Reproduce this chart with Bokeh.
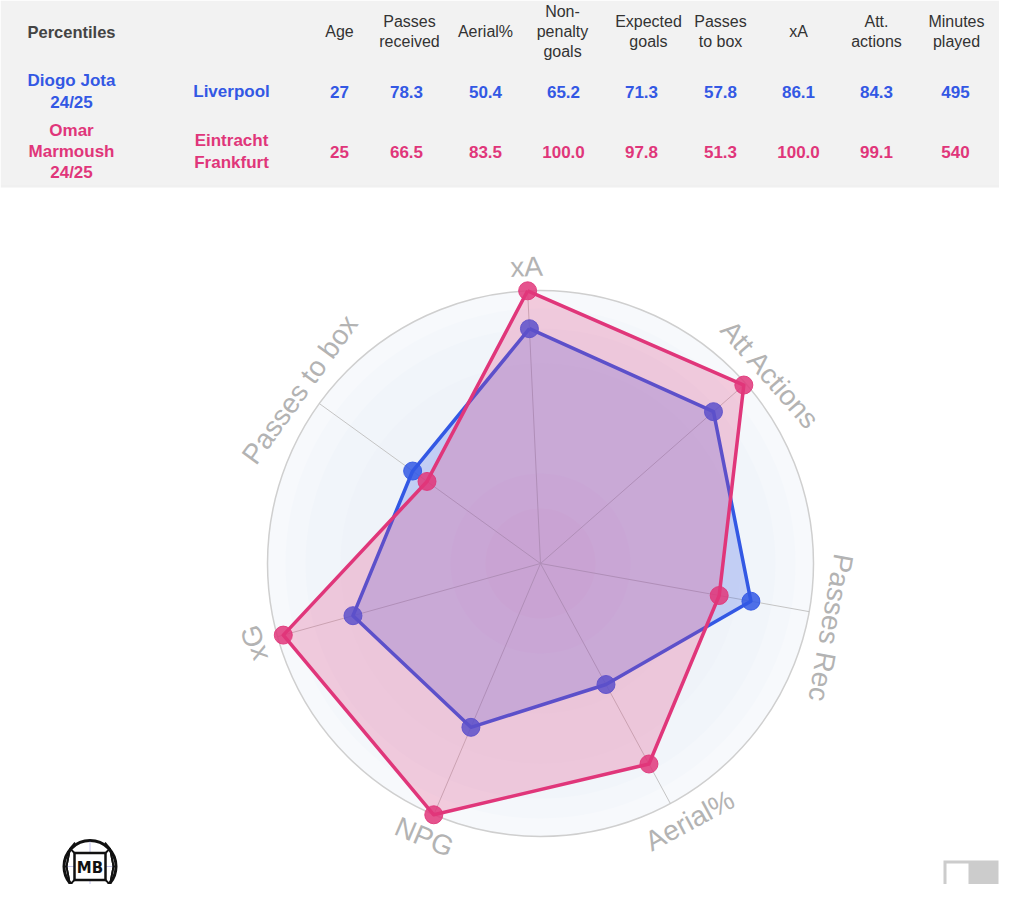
import numpy as np
from bokeh.plotting import figure
from bokeh.models import Range1d
from bokeh.core.properties import value
from bokeh.embed import file_html
from bokeh.resources import INLINE

# ---------------- data ----------------
metrics = ["xA", "Att Actions", "Passes Rec", "Aerial%", "NPG", "xG", "Passes to box"]
jota_vals = [86.1, 84.3, 78.3, 50.4, 65.2, 71.3, 57.8]
marmoush_vals = [100.0, 99.1, 66.5, 83.5, 100.0, 97.8, 51.3]

header_labels = ["Age", "Passes\nreceived", "Aerial%", "Non-\npenalty\ngoals", "Expected\ngoals",
                 "Passes\nto box", "xA", "Att.\nactions", "Minutes\nplayed"]
jota_row = ["27", "78.3", "50.4", "65.2", "71.3", "57.8", "86.1", "84.3", "495"]
marmoush_row = ["25", "66.5", "83.5", "100.0", "97.8", "51.3", "100.0", "99.1", "540"]
player_names = ["Diogo Jota\n24/25", "Omar\nMarmoush\n24/25"]
team_names = ["Liverpool", "Eintracht\nFrankfurt"]

# ---------------- layout / style ----------------
BLUE = "#3358e4"
PINK = "#e0367a"
FONT = "Liberation Sans"
head_x = [339, 409, 485, 562, 648, 720, 798, 876, 956]
val_x = [339, 406, 485, 563, 641, 720, 798, 876, 955]
label_shift = [0, 10, 12, 9, 0, 0, 0]   # px along the reading direction of each axis label

W, H = 999, 884
p = figure(width=W, height=H, x_range=Range1d(0, W), y_range=Range1d(H, 0),
           output_backend="svg", toolbar_location=None, min_border=0,
           x_axis_location=None, y_axis_location=None)
p.grid.visible = False
p.outline_line_color = None
p.background_fill_color = "white"
p.border_fill_color = "white"

# ---------------- header table ----------------
p.quad(left=0, right=W, top=0, bottom=184, fill_color="#f2f2f2", line_color=None)
p.quad(left=0, right=W, top=184, bottom=187, fill_color="#e6e6e6", fill_alpha=0.6, line_color=None)

p.text(x=[71], y=[31], text=["Percentiles"], text_font=value(FONT), text_font_size="16.5px",
       text_font_style="bold", text_color="#444444", text_align="center", text_baseline="middle")
p.text(x=head_x, y=[31] * len(head_x), text=header_labels, text_font=value(FONT),
       text_font_size="16px", text_color="#333333", text_align="center", text_baseline="middle",
       text_line_height=1.15)

for row, ycen, col in [(jota_row, 91, BLUE), (marmoush_row, 151, PINK)]:
    p.text(x=val_x, y=[ycen] * len(val_x), text=row, text_font=value(FONT), text_font_size="17px",
           text_font_style="bold", text_color=col, text_align="center", text_baseline="middle")
p.text(x=[71, 71], y=[91, 151], text=player_names, text_font=value(FONT), text_font_size="17px",
       text_font_style="bold", text_color=[BLUE, PINK], text_align="center", text_baseline="middle",
       text_line_height=1.12)
p.text(x=[231, 231], y=[91, 151], text=team_names, text_font=value(FONT), text_font_size="17px",
       text_font_style="bold", text_color=[BLUE, PINK], text_align="center", text_baseline="middle",
       text_line_height=1.12)

# ---------------- radar ----------------
cx, cy, R = 540.0, 563.0, 273.0
n = len(metrics)
theta = np.radians(-2.7 + np.arange(n) * 360.0 / n)   # clockwise from up


def polar(vals, rr=R):
    v = np.asarray(vals, dtype=float) / 100.0 * rr
    return cx + v * np.sin(theta), cy - v * np.cos(theta)


# background radial shading
for rr, col in [(273, "#f7f9fc"), (255, "#f4f7fb"), (235, "#f1f5fa"), (200, "#eff3f9"),
                (150, "#eef2f8"), (90, "#eeeef6"), (55, "#efe9f2")]:
    p.circle(x=[cx], y=[cy], radius=rr, fill_color=col, line_color=None)
p.circle(x=[cx], y=[cy], radius=R, fill_color=None, line_color="#cfcfcf", line_width=1.5)

ex, ey = polar([100] * n)
p.segment(x0=[cx] * n, y0=[cy] * n, x1=ex, y1=ey, line_color="#c4c4c4", line_width=1)

# series (Jota below, Marmoush on top)
for vals, col in [(jota_vals, BLUE), (marmoush_vals, PINK)]:
    xs, ys = polar(vals)
    p.patch(x=list(xs), y=list(ys), fill_color=col, fill_alpha=0.24, line_color=None)
    p.line(x=list(xs) + [xs[0]], y=list(ys) + [ys[0]], line_color=col, line_width=3.5,
           line_join="round")
    p.scatter(x=xs, y=ys, size=18, fill_color=col, fill_alpha=0.85, line_color=col, line_alpha=0.9)

# axis labels
lx, ly = polar([100] * n, rr=297)
deg = np.degrees(theta) % 360
rot = np.where((deg > 110) & (deg < 250), deg - 180, deg)       # clockwise rotation, degrees
rr_ = np.radians(rot)
shift = np.asarray(label_shift, dtype=float)
lx = lx + shift * np.cos(rr_)
ly = ly + shift * np.sin(rr_)
p.text(x=lx, y=ly, text=metrics, angle=list(-rr_), text_font=value(FONT),
       text_font_size="28px", text_color="#b3b3b3", text_align="center", text_baseline="middle")

# ---------------- logo ----------------
lcx, lcy = 89.5, 866
p.circle(x=[lcx], y=[lcy], radius=26, fill_color="white", line_color="#111111", line_width=3)
p.segment(x0=[lcx, lcx - 25], y0=[lcy - 25, lcy], x1=[lcx, lcx + 25], y1=[lcy + 25, lcy],
          line_color="#9a9ae0", line_width=1, line_alpha=0.6)
for sx in (-1, 1):
    for sy in (-1, 1):
        p.line(x=[lcx + sx * 15, lcx + sx * 20, lcx + sx * 23.5, lcx + sx * 20],
               y=[lcy + sy * 13, lcy + sy * 18, lcy, lcy - sy * 18],
               line_color="#111111", line_width=1.8)
    p.segment(x0=[lcx + sx * 23.5], y0=[lcy], x1=[lcx + sx * 26], y1=[lcy],
              line_color="#111111", line_width=1.5)
p.segment(x0=[lcx - 20, lcx + 20, lcx - 20, lcx + 20], y0=[lcy - 18, lcy - 18, lcy + 18, lcy + 18],
          x1=[lcx - 15, lcx + 15, lcx - 15, lcx + 15], y1=[lcy - 24, lcy - 24, lcy + 24, lcy + 24],
          line_color="#111111", line_width=1.5)
p.quad(left=lcx - 15.5, right=lcx + 15.5, top=lcy - 13.5, bottom=lcy + 13.5, fill_color="white",
       line_color="#111111", line_width=2.5, line_join="round")
p.text(x=[lcx], y=[lcy + 1], text=["MB"], text_font=value("DejaVu Sans"), text_font_size="15px",
       text_font_style="bold", text_color="#111111", text_align="center", text_baseline="middle")

# ---------------- toggle ----------------
p.quad(left=943, right=998, top=860, bottom=888, fill_color="#cccccc", line_color=None)
p.quad(left=946, right=968, top=863, bottom=885, fill_color="white", line_color=None)

open("out.html", "w").write(file_html(p, INLINE))
